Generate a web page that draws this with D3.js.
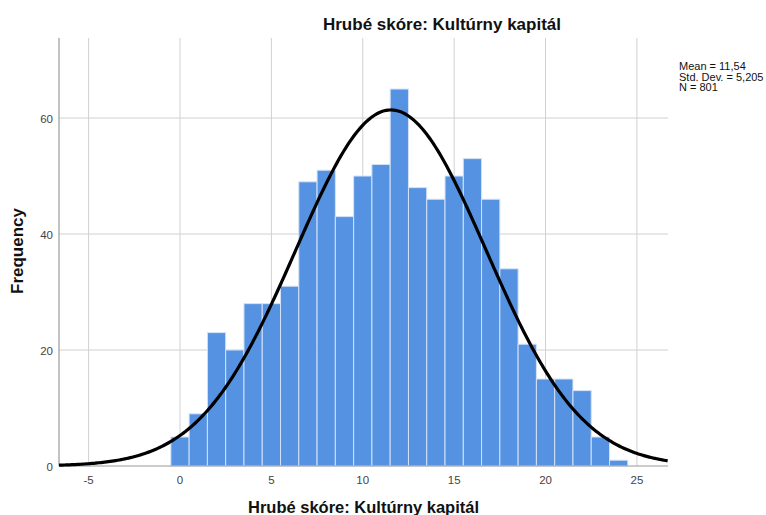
<!DOCTYPE html>
<html>
<head>
<meta charset="utf-8">
<style>
    body { margin: 0; background: #fff; }
    svg { font-family: "Liberation Sans", Arial, sans-serif; }
    .grid line { stroke: #d0d0d0; stroke-width: 1px; }
    .tick-label { font-size: 11.5px; fill: #444; }
    .bar { fill: #5592e2; stroke: #d4e2f6; stroke-width: 1px; }
    .curve { fill: none; stroke: #000; stroke-width: 3.2px; }
    .title { font-weight: bold; fill: #111; }
    .stats { font-size: 11px; fill: #111; }
</style>
</head>
<body>
<div id="chart"></div>
<script src="https://cdn.jsdelivr.net/npm/d3@7"></script>
<script>
// histogram bins (centered on integers, width 1)
const binCenters = [0, 1, 2, 3, 4, 5, 6, 7, 8, 9, 10, 11, 12, 13, 14, 15, 16, 17, 18, 19, 20, 21, 22, 23, 24];
const frequencies = [5, 9, 23, 20, 28, 28, 31, 49, 51, 43, 50, 52, 65, 48, 46, 50, 53, 46, 34, 21, 15, 15, 13, 5, 1];
const binWidth = 1;

// summary stats shown on the right
const mean = 11.54, stdDev = 5.205, n = 801;
const statLines = ["Mean = 11,54", "Std. Dev. = 5,205", "N = 801"];

const xTicks = [-5, 0, 5, 10, 15, 20, 25];
const yTicks = [0, 20, 40, 60];
const titleText = "Hrubé skóre: Kultúrny kapitál";

const widthValue = 766, heightValue = 515;
const margin = { top: 38, left: 59, right: 98, bottom: 49 };
const width = widthValue - margin.left - margin.right;
const height = heightValue - margin.top - margin.bottom;

const svg = d3.select("#chart").append("svg")
    .attr("width", widthValue)
    .attr("height", heightValue);

const g = svg.append("g").attr("transform", "translate(" + margin.left + "," + margin.top + ")");

const x = d3.scaleLinear().domain([-6.62, 26.7]).range([0, width]);
const y = d3.scaleLinear().domain([0, 73.8]).range([height, 0]);

// gridlines
const grid = g.append("g").attr("class", "grid");
grid.selectAll(".vx").data(xTicks).enter().append("line")
    .attr("x1", d => x(d)).attr("x2", d => x(d))
    .attr("y1", 0).attr("y2", height);
grid.selectAll(".hy").data(yTicks.filter(d => d > 0)).enter().append("line")
    .attr("x1", 0).attr("x2", width)
    .attr("y1", d => y(d)).attr("y2", d => y(d));

// bars
g.selectAll(".bar").data(binCenters).enter().append("rect")
    .attr("class", "bar")
    .attr("x", d => x(d - binWidth / 2))
    .attr("width", d => x(d + binWidth / 2) - x(d - binWidth / 2))
    .attr("y", (d, i) => y(frequencies[i]))
    .attr("height", (d, i) => y(0) - y(frequencies[i]));

// axes lines
g.append("line").attr("x1", 0).attr("x2", 0).attr("y1", 0).attr("y2", height)
    .attr("stroke", "#999").attr("stroke-width", 1.2);
g.append("line").attr("x1", 0).attr("x2", width).attr("y1", height).attr("y2", height)
    .attr("stroke", "#999").attr("stroke-width", 1.2);

// normal curve from the shown mean / sd / N
const curvePts = d3.range(x.domain()[0], x.domain()[1] + 0.01, 0.1).map(v => {
    const z = (v - mean) / stdDev;
    return [v, n * binWidth / (stdDev * Math.sqrt(2 * Math.PI)) * Math.exp(-0.5 * z * z)];
});
const line = d3.line().x(d => x(d[0])).y(d => y(d[1]));
g.append("path").attr("class", "curve").attr("d", line(curvePts));

// tick labels
g.selectAll(".xl").data(xTicks).enter().append("text")
    .attr("class", "tick-label")
    .attr("x", d => x(d)).attr("y", height + 18)
    .attr("text-anchor", "middle")
    .text(d => d);
g.selectAll(".yl").data(yTicks).enter().append("text")
    .attr("class", "tick-label")
    .attr("x", -6).attr("y", d => y(d)).attr("dy", "0.4em")
    .attr("text-anchor", "end")
    .text(d => d);

// titles
svg.append("text").attr("class", "title")
    .attr("x", 442).attr("y", 30)
    .style("font-size", "17px")
    .attr("text-anchor", "middle")
    .text(titleText);
svg.append("text").attr("class", "title")
    .attr("x", margin.left + width / 2).attr("y", 513)
    .style("font-size", "16.5px")
    .attr("text-anchor", "middle")
    .text(titleText);
svg.append("text").attr("class", "title")
    .attr("transform", "translate(23," + 251 + ") rotate(-90)")
    .style("font-size", "17px")
    .attr("text-anchor", "middle")
    .text("Frequency");

// stats box
svg.selectAll(".stats").data(statLines).enter().append("text")
    .attr("class", "stats")
    .attr("x", 679).attr("y", (d, i) => 70 + i * 10.7)
    .text(d => d);
</script>
</body>
</html>
